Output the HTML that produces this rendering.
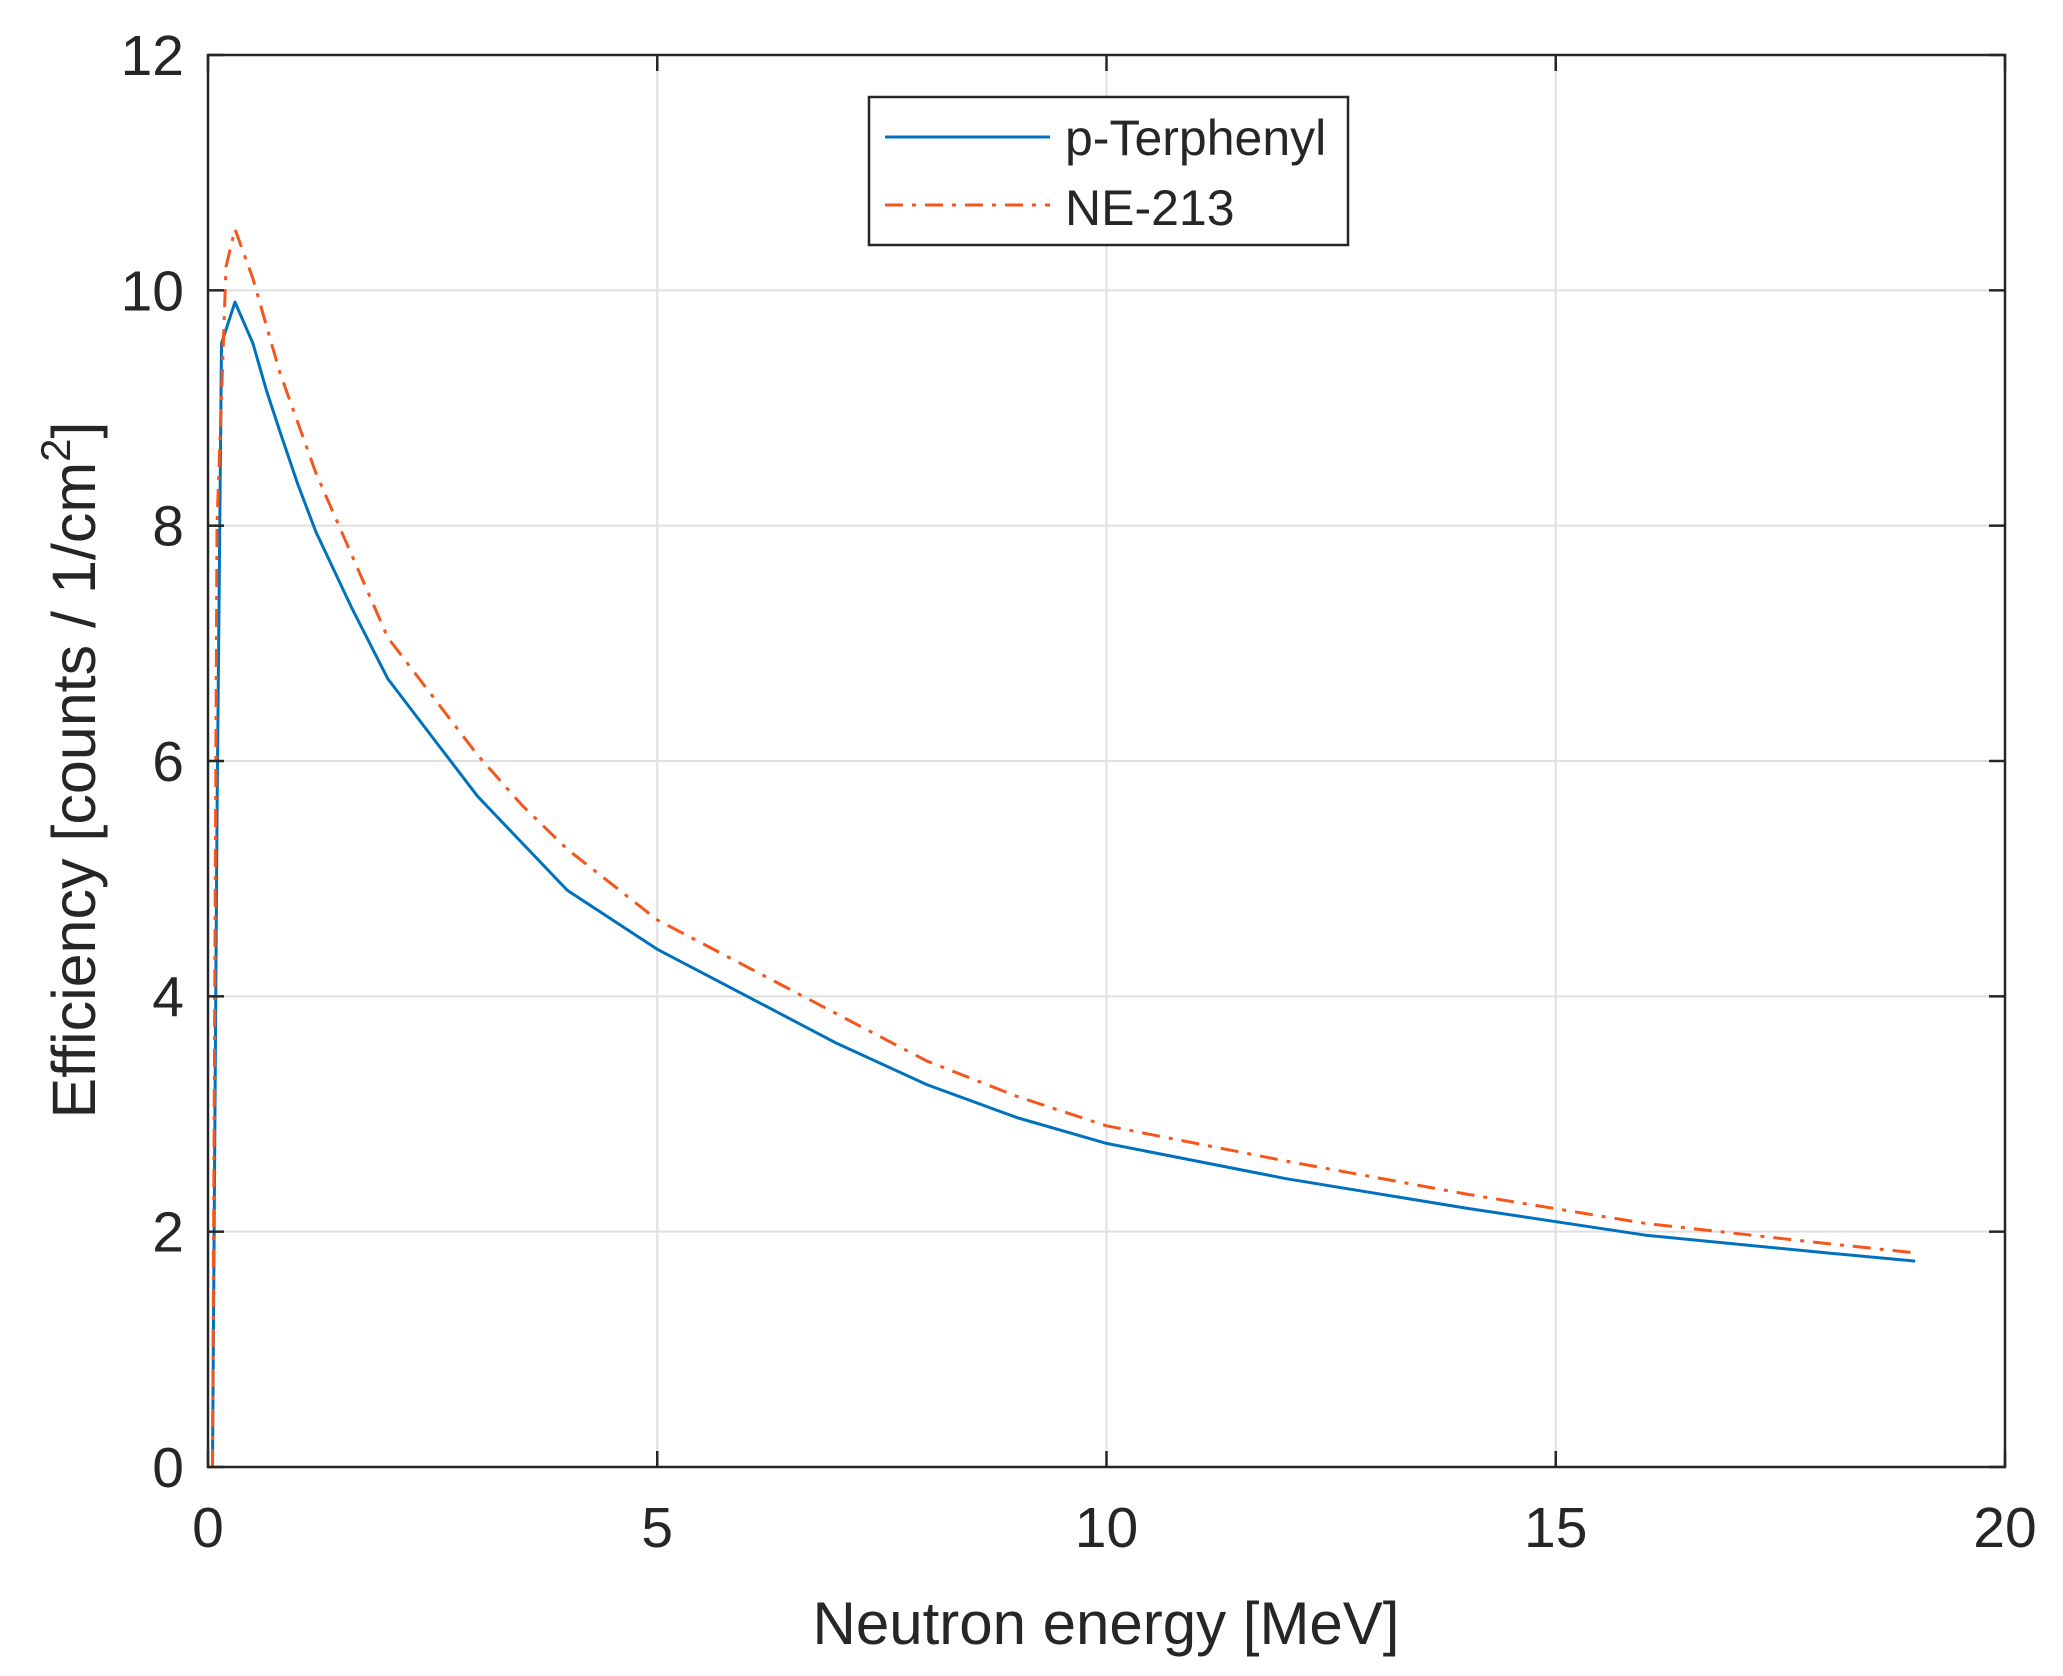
<!DOCTYPE html>
<html><head><meta charset="utf-8"><style>
html,body{margin:0;padding:0;background:#fff}
svg{display:block}
text{font-family:"Liberation Sans",Arial,sans-serif;fill:#262626}
</style></head><body>
<svg id="chart" width="2063" height="1676" viewBox="0 0 2063 1676" xmlns="http://www.w3.org/2000/svg">
<g id="grid"></g>
<g id="series"></g>
<rect x="208" y="55" width="1797" height="1412" fill="none" stroke="#262626" stroke-width="2.5"/>
<g id="ticks"></g>
<text x="1106" y="1644" font-size="60" text-anchor="middle">Neutron energy [MeV]</text>
<text transform="translate(95,770) rotate(-90)" font-size="61" text-anchor="middle">Efficiency [counts / 1/cm<tspan font-size="42" dy="-25">2</tspan><tspan dy="25">]</tspan></text>
<g>
<rect x="869" y="97" width="479" height="148" fill="#fff" stroke="#262626" stroke-width="2.5"/>
<line x1="885" y1="137" x2="1050" y2="137" stroke="#0072BD" stroke-width="3"/>
<text x="1065" y="155" font-size="50">p-Terphenyl</text>
<line x1="885" y1="205" x2="1050" y2="205" stroke="#F4561C" stroke-width="3" stroke-dasharray="18,9,4,9"/>
<text x="1065" y="225" font-size="50">NE-213</text>
</g>
</svg>
<script>
const xTicks=[0,5,10,15,20];
const yTicks=[0,2,4,6,8,10,12];
const xTickLabels=["0","5","10","15","20"];
const yTickLabels=["0","2","4","6","8","10","12"];
const pTerX=[0.05,0.1,0.15,0.3,0.5,0.65,0.8,1.0,1.2,1.6,2,2.5,3,3.5,4,5,6,7,8,9,10,12,14,16,18,19];
const pTerY=[0,5.5,9.55,9.9,9.55,9.15,8.8,8.35,7.95,7.3,6.7,6.2,5.7,5.3,4.9,4.4,4.0,3.6,3.25,2.97,2.75,2.45,2.2,1.97,1.82,1.75];
const neX=[0.05,0.1,0.2,0.3,0.5,0.8,1.2,1.6,2,2.5,3,3.5,4,5,6,7,8,9,10,12,14,16,18,19];
const neY=[0,8.0,10.2,10.52,10.1,9.3,8.45,7.75,7.05,6.55,6.05,5.62,5.25,4.65,4.25,3.85,3.45,3.15,2.9,2.6,2.32,2.07,1.9,1.82];
const X0=208,X1=2005,Y0=1467,Y1=55;
function sx(v){return X0+(v-0)/(20-0)*(X1-X0);}
function sy(v){return Y0-(v-0)/(12-0)*(Y0-Y1);}
const NS="http://www.w3.org/2000/svg";
const grid=document.getElementById('grid'),ticks=document.getElementById('ticks'),series=document.getElementById('series');
function mk(tag,attrs,parent){const e=document.createElementNS(NS,tag);for(const k in attrs)e.setAttribute(k,attrs[k]);parent.appendChild(e);return e;}
xTicks.forEach((v,i)=>{
  const x=sx(v);
  if(i>0&&i<xTicks.length-1){const g=mk('line',{x1:x,x2:x,y1:Y1,y2:Y0,stroke:'#dfdfdf','stroke-width':2},grid);
  
  }
  const t1=mk('line',{x1:x,x2:x,y1:Y0,y2:Y0-16,stroke:'#262626','stroke-width':2.5},ticks);
  
  
  const t2=mk('line',{x1:x,x2:x,y1:Y1,y2:Y1+16,stroke:'#262626','stroke-width':2.5},ticks);
  
  
  const lb=mk('text',{x:x,y:1547,'font-size':57,'text-anchor':'middle'},ticks);lb.textContent=xTickLabels[i];
  
  
});
yTicks.forEach((v,i)=>{
  const y=sy(v);
  if(i>0&&i<yTicks.length-1){const g=mk('line',{x1:X0,x2:X1,y1:y,y2:y,stroke:'#dfdfdf','stroke-width':2},grid);
  
  }
  const t1=mk('line',{x1:X0,x2:X0+16,y1:y,y2:y,stroke:'#262626','stroke-width':2.5},ticks);
  
  
  const t2=mk('line',{x1:X1,x2:X1-16,y1:y,y2:y,stroke:'#262626','stroke-width':2.5},ticks);
  
  
  const lb=mk('text',{x:184,y:y+20,'font-size':57,'text-anchor':'end'},ticks);lb.textContent=yTickLabels[i];
  
  
});
function pts(xs,ys){return xs.map((v,i)=>sx(v).toFixed(1)+','+sy(ys[i]).toFixed(1)).join(' ');}
const l1=mk('polyline',{points:pts(pTerX,pTerY),fill:'none',stroke:'#0072BD','stroke-width':3,'stroke-linejoin':'round'},series);


const l2=mk('polyline',{points:pts(neX,neY),fill:'none',stroke:'#F4561C','stroke-width':3,'stroke-dasharray':'18,9,4,9'},series);


</script>
</body></html>
